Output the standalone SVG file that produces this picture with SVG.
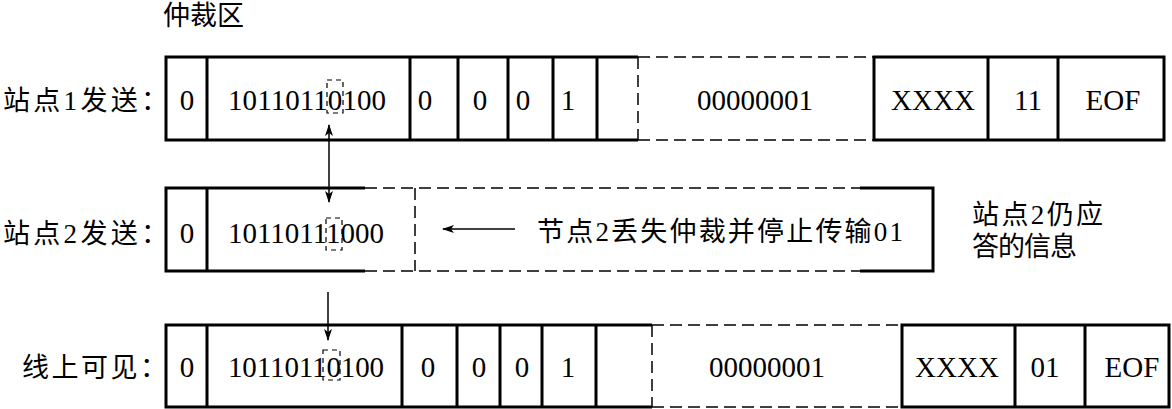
<svg xmlns="http://www.w3.org/2000/svg" width="1172" height="409" viewBox="0 0 1172 409">
<style>
.t{font-family:"Liberation Serif","Noto Sans CJK SC",serif;font-size:29px;fill:#000}
.c{font-family:"Liberation Serif","Noto Sans CJK SC",serif;font-size:27px;fill:#000}
.m{text-anchor:middle}
.s{stroke:#000;stroke-width:3;fill:none}
.d{stroke:#000;stroke-width:1.5;fill:none;stroke-dasharray:12 6}
.b{stroke:#000;stroke-width:1.2;fill:none;stroke-dasharray:5 4}
.a{stroke:#000;stroke-width:1.5;fill:none}
</style>
<defs>
<marker id="ah" viewBox="0 0 12 8" refX="11" refY="4" markerWidth="12" markerHeight="8" markerUnits="userSpaceOnUse" orient="auto-start-reverse">
<path d="M0,0 L12,4 L0,8 L3,4 Z" fill="#000"/>
</marker>
</defs>
<rect width="1172" height="409" fill="#fff"/>
<text class="c" x="163" y="25">仲裁区</text>

<g id="row1">
<text class="c" x="3" y="110" textLength="165" lengthAdjust="spacing">站点1发送：</text>
<path class="s" d="M638,57 H166 V140 H638 M207,57 V140 M410,57 V140 M458,57 V140 M508,57 V140 M553,57 V140 M597,57 V140"/>
<path class="d" d="M638,57 H874 M638,140 H874 M638,57 V140"/>
<path class="s" d="M874,57 H1164 V140 H874 Z M988,57 V140 M1058,57 V140"/>
<text class="t m" x="187" y="110">0</text>
<text class="t" x="228" y="110" textLength="158">10110110100</text>
<text class="t m" x="425" y="110">0</text>
<text class="t m" x="480" y="110">0</text>
<text class="t m" x="523" y="110">0</text>
<text class="t m" x="568" y="110">1</text>
<text class="t m" x="755" y="110">00000001</text>
<text class="t m" x="933" y="110">XXXX</text>
<text class="t m" x="1028" y="110">11</text>
<text class="t m" x="1113" y="110">EOF</text>
<rect class="b" x="327" y="80" width="16" height="33"/>
</g>

<g id="row2">
<text class="c" x="3" y="243" textLength="165" lengthAdjust="spacing">站点2发送：</text>
<path class="s" d="M365,188 H166 V271 H365 M207,188 V271"/>
<path class="d" d="M365,188 H860 M365,271 H860 M415,188 V271"/>
<path class="s" d="M860,188 H933 V271 H860" stroke-width="2.5"/>
<text class="t m" x="187" y="243">0</text>
<text class="t" x="228" y="243" textLength="156">10110111000</text>
<rect class="b" x="326" y="218" width="16" height="32"/>
<text class="c" x="537" y="241" textLength="366" lengthAdjust="spacing">节点2丢失仲裁并停止传输01</text>
</g>

<g id="note">
<text class="c" x="972" y="224" textLength="131" lengthAdjust="spacing">站点2仍应</text>
<text class="c" x="972" y="256" textLength="105" lengthAdjust="spacing">答的信息</text>
</g>

<g id="row3">
<text class="c" x="22" y="377" textLength="145" lengthAdjust="spacing">线上可见：</text>
<path class="s" d="M652,325 H166 V407 H652 M207,325 V407 M402,325 V407 M457,325 V407 M500,325 V407 M542,325 V407 M596,325 V407"/>
<path class="d" d="M652,325 H902 M652,407 H902 M652,325 V407"/>
<path class="s" d="M902,325 H1169 V407 H902 Z M1015,325 V407 M1085,325 V407"/>
<text class="t m" x="187" y="377">0</text>
<text class="t" x="228" y="377" textLength="156">10110110100</text>
<text class="t m" x="428" y="377">0</text>
<text class="t m" x="479" y="377">0</text>
<text class="t m" x="522" y="377">0</text>
<text class="t m" x="568" y="377">1</text>
<text class="t m" x="767" y="377">00000001</text>
<text class="t m" x="957" y="377">XXXX</text>
<text class="t m" x="1045" y="377">01</text>
<text class="t m" x="1132" y="377">EOF</text>
<rect class="b" x="323" y="350" width="17" height="30"/>
</g>

<g id="connectors">
<line class="a" x1="329" y1="125" x2="329" y2="202" marker-start="url(#ah)" marker-end="url(#ah)"/>
<line class="a" x1="328" y1="292" x2="328" y2="340" marker-end="url(#ah)"/>
<line class="a" x1="515" y1="229" x2="443" y2="229" marker-end="url(#ah)"/>
</g>
</svg>
